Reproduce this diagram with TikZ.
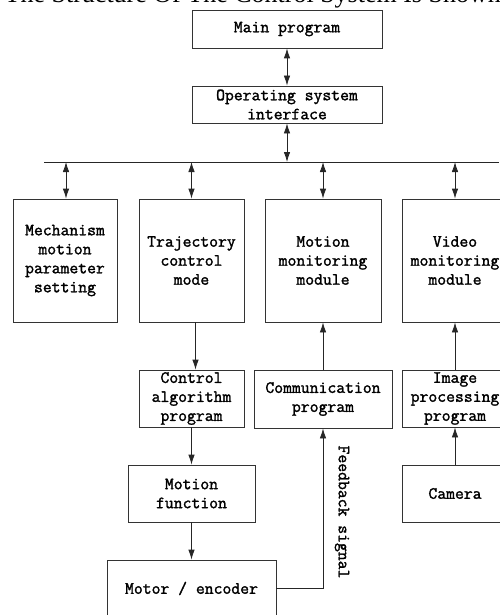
\documentclass[tikz,border=0pt]{standalone}
\usepackage{fontspec}
\newfontfamily\titlefont{Liberation Serif}
\newfontfamily\monob{Latin Modern Mono}[FakeBold=1.6]
\usetikzlibrary{arrows.meta}
\begin{document}
\begin{tikzpicture}[x=1pt,y=-1pt,
  box/.style={draw=black!80, line width=0.8pt, align=center, inner sep=0pt,
    font=\monob\fontsize{17.2}{19}\selectfont},
  conn/.style={line width=0.8pt, draw=black!85, -{Latex[length=10pt,width=6.5pt]}},
  both/.style={line width=0.8pt, draw=black!85, {Latex[length=10pt,width=6.5pt]}-{Latex[length=10pt,width=6.5pt]}},
  lbl/.style={font=\monob\fontsize{17.2}{19}\selectfont, inner sep=0pt}]
\useasboundingbox (0,0) rectangle (499,615);
% clipped caption at top
\node[anchor=base east, inner sep=0pt, font=\titlefont\fontsize{26}{28}\selectfont] (title) at (501,3) {The Structure Of The Control System Is Shown};
% boxes
\node[box, minimum width=190pt, minimum height=38pt] (main) at (287,29) {Main program};
\node[box, minimum width=190pt, minimum height=37pt] (os) at (287,104.5) {Operating system\\interface};
\node[box, minimum width=104pt, minimum height=123pt] (mech) at (65,260.5) {Mechanism\\motion\\parameter\\setting};
\node[box, minimum width=105pt, minimum height=123pt] (traj) at (191.5,260.5) {Trajectory\\control\\mode};
\node[box, minimum width=116pt, minimum height=123pt] (motmon) at (323,260.5) {Motion\\monitoring\\module};
\node[box, minimum width=106pt, minimum height=123pt] (vidmon) at (455,260.5) {Video\\monitoring\\module};
\node[box, minimum width=105pt, minimum height=57pt] (ctrl) at (191.5,398.5) {Control\\algorithm\\program};
\node[box, minimum width=138pt, minimum height=58pt] (comm) at (323,399) {Communication\\program};
\node[box, minimum width=106pt, minimum height=57pt] (img) at (455,398.5) {Image\\processing\\program};
\node[box, minimum width=127pt, minimum height=57pt] (motfun) at (191.5,493.5) {Motion\\function};
\node[box, minimum width=106pt, minimum height=57pt] (camera) at (455,493.5) {Camera};
\node[box, minimum width=169pt, minimum height=57pt] (motor) at (191.5,588.5) {Motor / encoder};
% bus
\coordinate (busL) at (44,162);
\coordinate (busR) at (499,162);
\coordinate (b0) at (287,162);
\coordinate (b1) at (66,162);
\coordinate (b2) at (191.5,162);
\coordinate (b3) at (323,162);
\coordinate (b4) at (455,162);
\draw[line width=0.8pt, draw=black!85] (busL) -- (busR);
% connectors
\draw[both] (main) -- (os);
\draw[both] (os) -- (b0);
\draw[both] (b1) -- (b1 |- mech.north);
\draw[both] (b2) -- (traj);
\draw[both] (b3) -- (motmon);
\draw[both] (b4) -- (vidmon);
\draw[conn] ([xshift=4pt]traj.south) -- ([xshift=4pt]ctrl.north);
\draw[conn] (ctrl) -- (motfun);
\draw[conn] (motfun) -- (motor);
\draw[conn] (comm) -- (motmon);
\draw[conn] (img) -- (vidmon);
\draw[conn] (camera) -- (img);
\draw[conn] (motor.east) -| (comm.south);
\node[lbl, rotate=-90] (fb) at (342,512) {Feedback signal};
\end{tikzpicture}
\end{document}
